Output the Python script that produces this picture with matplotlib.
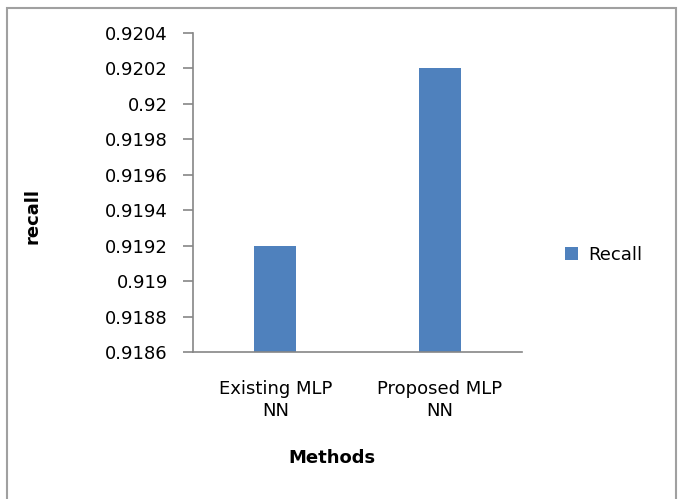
import matplotlib
matplotlib.use("Agg")
import matplotlib.pyplot as plt
from matplotlib.patches import Rectangle

# data
methods = ["Existing MLP\nNN", "Proposed MLP\nNN"]
recall = [0.9192, 0.9202]
yticks = [0.9186, 0.9188, 0.919, 0.9192, 0.9194, 0.9196, 0.9198, 0.92, 0.9202, 0.9204]
ytick_labels = ["0.9186", "0.9188", "0.919", "0.9192", "0.9194", "0.9196", "0.9198", "0.92", "0.9202", "0.9204"]

plt.rcParams['font.family'] = ['DejaVu Sans']
bar_color = '#4F81BD'
axis_color = '#868686'
fs = 13

fig = plt.figure(figsize=(6.78, 4.99), dpi=100)

# outer chart frame
fig.patches.append(Rectangle((7/678, -0.01), 669/678, 1 - 8/499 + 0.01,
                             transform=fig.transFigure, fill=False,
                             edgecolor='#A0A0A0', linewidth=1.5))

ax = fig.add_axes([193/678, 1 - 352/499, 329/678, 319/499])
x = range(len(methods))
ax.bar(x, recall, width=0.255, color=bar_color, label='Recall')

ax.set_xlim(-0.5, 1.5)
ax.set_ylim(0.9186, 0.9204)
ax.set_yticks(yticks)
ax.set_yticklabels(ytick_labels)
ax.set_xticks(list(x))
ax.set_xticklabels(methods, linespacing=1.3)

for s in ['top', 'right']:
    ax.spines[s].set_visible(False)
for s in ['left', 'bottom']:
    ax.spines[s].set_color(axis_color)
    ax.spines[s].set_linewidth(1.2)

ax.tick_params(axis='y', length=7, color=axis_color, width=1.2, labelsize=fs, pad=11)
ax.tick_params(axis='x', length=0, labelsize=fs, pad=20)

ax.set_ylabel('recall', fontsize=fs, fontweight='bold')
ax.yaxis.set_label_coords(-0.459, 0.426)
ax.set_xlabel('Methods', fontsize=fs, fontweight='bold')
ax.xaxis.set_label_coords(0.4225, -0.305)

ax.legend(loc='center left', bbox_to_anchor=(565/678, 1 - 255/499),
          bbox_transform=fig.transFigure, frameon=False, borderpad=0,
          borderaxespad=0, fontsize=fs, handlelength=0.72, handleheight=0.72,
          handletextpad=0.55)

fig.savefig('out.png', dpi=100)
